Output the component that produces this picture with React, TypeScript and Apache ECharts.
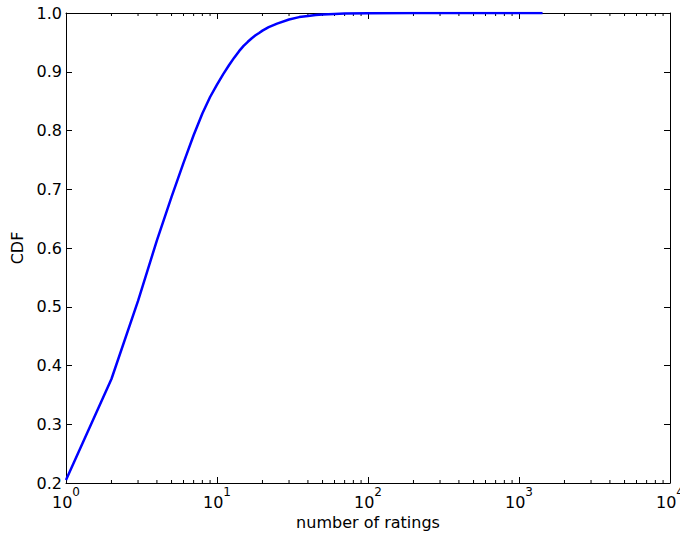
import React, { useEffect, useRef } from "react";
import * as echarts from "echarts";

const ratings = [1, 2, 3, 4, 5, 6, 7, 8, 9, 10, 11, 12, 13, 14, 15, 16, 17, 18, 19, 20, 22, 25, 30, 35, 40, 45, 50, 60, 70, 100, 200, 500, 1000, 1432];
const cdf = [0.205, 0.377, 0.51, 0.613, 0.687, 0.745, 0.792, 0.829, 0.857, 0.878, 0.896, 0.911, 0.924, 0.935, 0.944, 0.951, 0.957, 0.962, 0.966, 0.97, 0.976, 0.982, 0.989, 0.993, 0.995, 0.9965, 0.9975, 0.9985, 0.999, 0.9995, 1.0, 1.0, 1.0, 1.0];
const minorTicks = [2, 3, 4, 5, 6, 7, 8, 9, 20, 30, 40, 50, 60, 70, 80, 90, 200, 300, 400, 500, 600, 700, 800, 900, 2000, 3000, 4000, 5000, 6000, 7000, 8000, 9000];

const FONT = "DejaVu Sans";
const FS = 16;

export default function App() {
  const ref = useRef<HTMLDivElement>(null);
  useEffect(() => {
    const chart = echarts.init(ref.current!, null, { renderer: "svg" });
    const tickStyle = { color: "#000", width: 1 };
    chart.setOption({
      animation: false,
      backgroundColor: "#fff",
      grid: { left: 66, top: 13, right: 10, bottom: 51, show: false, outerBoundsMode: "none", containLabel: false },
      xAxis: [
        {
          type: "log",
          logBase: 10,
          min: 1,
          max: 10000,
          name: "number of ratings",
          nameLocation: "middle",
          nameGap: 29,
          nameTextStyle: { fontFamily: FONT, fontSize: FS, color: "#000" },
          axisLine: { show: true, lineStyle: { color: "#000", width: 1 } },
          axisTick: { show: true, inside: true, length: 6, lineStyle: tickStyle },
          axisLabel: {
            fontFamily: FONT,
            color: "#000",
            margin: 3,
            formatter: (v: number) => "{b|10}{s|" + String(Math.round(Math.log10(v))) + "}",
            rich: {
              b: { fontFamily: FONT, fontSize: FS, color: "#000", lineHeight: 24, verticalAlign: "bottom" },
              s: { fontFamily: FONT, fontSize: 12, color: "#000", lineHeight: 12, verticalAlign: "top" },
            },
          },
          splitLine: { show: false },
        },
        {
          type: "log",
          logBase: 10,
          min: 1,
          max: 10000,
          position: "top",
          axisLine: { show: true, lineStyle: { color: "#000", width: 1 } },
          axisTick: { show: true, inside: true, length: 6, lineStyle: tickStyle },
          axisLabel: { show: false },
          splitLine: { show: false },
        },
      ],
      yAxis: [
        {
          type: "value",
          min: 0.2,
          max: 1.0,
          interval: 0.1,
          name: "CDF",
          nameLocation: "middle",
          nameGap: 32,
          nameTextStyle: { fontFamily: FONT, fontSize: FS, color: "#000" },
          axisLine: { show: true, lineStyle: { color: "#000", width: 1 } },
          axisTick: { show: true, inside: true, length: 6, lineStyle: tickStyle },
          axisLabel: {
            fontFamily: FONT,
            fontSize: FS,
            color: "#000",
            margin: 4,
            formatter: (v: number) => v.toFixed(1),
          },
          splitLine: { show: false },
        },
        {
          type: "value",
          min: 0.2,
          max: 1.0,
          interval: 0.1,
          position: "right",
          axisLine: { show: true, lineStyle: { color: "#000", width: 1 } },
          axisTick: { show: true, inside: true, length: 6, lineStyle: tickStyle },
          axisLabel: { show: false },
          splitLine: { show: false },
        },
      ],
      series: [
        {
          type: "line",
          data: ratings.map((r, i) => [r, cdf[i]]),
          showSymbol: false,
          symbol: "none",
          lineStyle: { color: "#0000ff", width: 2.5 },
          xAxisIndex: 0,
          yAxisIndex: 0,
          z: 3,
        },
        {
          type: "custom",
          silent: true,
          clip: false,
          xAxisIndex: 0,
          yAxisIndex: 0,
          data: minorTicks.map((t) => [t, 0.2]),
          renderItem: (params: any, api: any) => {
            const cs = params.coordSys;
            const x = api.coord([api.value(0), 0.2])[0];
            const bottom = cs.y + cs.height;
            return {
              type: "group",
              children: [
                { type: "line", shape: { x1: x, y1: bottom, x2: x, y2: bottom - 3 }, style: { stroke: "#000", lineWidth: 1 } },
                { type: "line", shape: { x1: x, y1: cs.y, x2: x, y2: cs.y + 3 }, style: { stroke: "#000", lineWidth: 1 } },
              ],
            };
          },
        },
      ],
    });
    return () => chart.dispose();
  }, []);
  return <div ref={ref} style={{ width: 680, height: 534, position: "absolute", left: 0, top: 0 }} />;
}
